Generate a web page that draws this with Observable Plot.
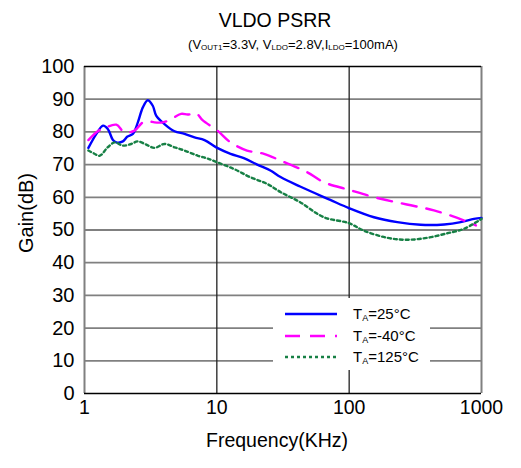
<!DOCTYPE html>
<html>
<head>
<meta charset="utf-8">
<script src="https://cdn.jsdelivr.net/npm/d3@7"></script>
<script src="https://cdn.jsdelivr.net/npm/@observablehq/plot@0.6"></script>
<style>
  body { margin: 0; background: #fff; font-family: Arial, "Liberation Sans", sans-serif; }
  #wrap { position: relative; width: 521px; height: 468px; }
  .title { position: absolute; transform: translateX(-50%); white-space: nowrap; }
  .title sub { font-size: 8px; vertical-align: -1px; }
  #chart { position: absolute; left: 0; top: 56px; }
  #legend { position: absolute; left: 273px; top: 298px; width: 157px; height: 72px; background: #fff; }
  #legend .row { position: absolute; left: 0; height: 20px; font-size: 15px; }
  #legend svg { position: absolute; left: 12px; top: 4px; }
  #legend span { position: absolute; left: 80px; top: 0px; white-space: nowrap; }
  #legend sub { font-size: 9px; vertical-align: -2px; }
</style>
</head>
<body>
<div id="wrap">
  <div class="title" style="left:275px; top:9px; font-size:19.5px;">VLDO PSRR</div>
  <div class="title" style="left:293px; top:37px; font-size:13px;">(V<sub>OUT1</sub>=3.3V, V<sub>LDO</sub>=2.8V,I<sub>LDO</sub>=100mA)</div>
  <div id="chart"></div>
  <div id="legend"></div>
</div>
<script>
// valores (kHz, dB)
const freq25 = [1.07, 1.23, 1.38, 1.5, 1.64, 1.74, 1.95, 2.1, 2.32, 2.53, 2.76, 3.01, 3.28, 3.48, 4.02, 4.79, 5.7, 6.78, 8.07, 10.06, 12.7, 16, 20.2, 25.4, 30.3, 42.6, 72, 99.5, 154, 231, 347, 523, 697, 877, 1000]
const gain25 = [75.1, 79.4, 81.9, 80.9, 77.5, 76.8, 77.1, 78.5, 79.4, 82.9, 87.5, 89.7, 88, 85, 82.4, 80.2, 79.4, 78.3, 77.5, 75.1, 73.3, 72, 70, 68.2, 66.2, 63.3, 59.2, 56.7, 53.9, 52.4, 51.6, 51.7, 52.4, 53.4, 53.7]

const freqM40 = [1.07, 1.26, 1.42, 1.74, 2.0, 2.39, 2.76, 3.1, 3.38, 3.9, 4.39, 5.37, 6.04, 6.98, 7.8, 10.1, 12.7, 16.9, 22.7, 31.2, 48, 64.4, 99.5, 163, 273, 437, 657, 907]
const gainM40 = [77.5, 80.2, 81.2, 82.2, 79.9, 80.4, 82.9, 83.2, 82.9, 82.9, 83.6, 85.5, 85.3, 85.7, 83.6, 80.4, 76.8, 74.3, 73.3, 71, 67.7, 64.6, 62.3, 59.8, 57.8, 56, 53.7, 51.4]

const freq125 = [1.07, 1.18, 1.3, 1.5, 1.69, 1.95, 2.25, 2.53, 2.93, 3.38, 4.02, 4.79, 5.7, 7.2, 8.45, 10.06, 13.4, 18, 24, 30.3, 42.6, 64.4, 99.5, 129, 195, 273, 388, 552, 740, 1000]
const gain125 = [74.3, 73.4, 72.7, 75.3, 76.8, 75.8, 76.3, 77.1, 76.1, 75.1, 76.3, 75.3, 74.3, 72.7, 71.9, 70.7, 68.7, 66.1, 64.1, 61.6, 58.5, 53.9, 52.1, 49.8, 47.6, 47, 47.6, 49, 50.4, 53.4]

const series = [
  {label: "25°C", freq: freq25, gain: gain25, color: "#0000ff", dash: null},
  {label: "-40°C", freq: freqM40, gain: gainM40, color: "#ff00ff", dash: "15,10"},
  {label: "125°C", freq: freq125, gain: gain125, color: "#178045", dash: "3,3"}
]

const xTicks = [1, 10, 100, 1000]
const yTicks = [0, 10, 20, 30, 40, 50, 60, 70, 80, 90, 100]

const lines = series.map(s => Plot.line(s.freq.map((f, i) => ({f, g: s.gain[i]})), {
  x: "f", y: "g",
  stroke: s.color,
  strokeWidth: 2.4,
  strokeDasharray: s.dash,
  curve: "catmull-rom"
}))

const chart = Plot.plot({
  width: 521,
  height: 412,
  marginTop: 10,
  marginBottom: 75,
  marginLeft: 84,
  marginRight: 40,
  style: {fontFamily: "Arial, 'Liberation Sans', sans-serif", background: "transparent", color: "#000"},
  x: {type: "log", domain: [1, 1000]},
  y: {domain: [0, 100]},
  marks: [
    Plot.ruleY(yTicks.slice(1, -1), {stroke: "#808080", strokeWidth: 1.8}),
    Plot.ruleX(xTicks.slice(1, -1), {stroke: "#222", strokeWidth: 1.3}),
    Plot.ruleX([1, 1000], {stroke: "#808080", strokeWidth: 2}),
    Plot.ruleY([0, 100], {stroke: "#000", strokeWidth: 1.3}),
    ...lines,
    Plot.axisX({ticks: xTicks, tickFormat: d => String(d), tickSize: 0, tickPadding: 7, fontSize: 19.5, label: null}),
    Plot.axisY({ticks: yTicks, tickSize: 0, tickPadding: 10, fontSize: 20, label: null}),
    Plot.text(["Gain(dB)"], {frameAnchor: "left", rotate: -90, dx: -58, dy: -17, fontSize: 20, textAnchor: "middle"}),
    Plot.text(["Frequency(KHz)"], {frameAnchor: "bottom", dx: -6, dy: 47, fontSize: 19.5, textAnchor: "middle", lineAnchor: "middle"})
  ]
})
d3.select('#chart').append(() => chart)

// leyenda
const legend = d3.select('#legend')
series.forEach((s, i) => {
  const row = legend.append('div').attr('class', 'row').style('top', (7 + i * 21.5) + 'px').style('width', '157px')
  const svg = row.append('svg').attr('width', 56).attr('height', 10)
  svg.append('line').attr('x1', 0).attr('x2', 52).attr('y1', 5).attr('y2', 5)
    .attr('stroke', s.color).attr('stroke-width', 2.4)
    .attr('stroke-dasharray', s.dash)
  row.append('span').html('T<sub>A</sub>=' + s.label)
})
</script>
</body>
</html>
